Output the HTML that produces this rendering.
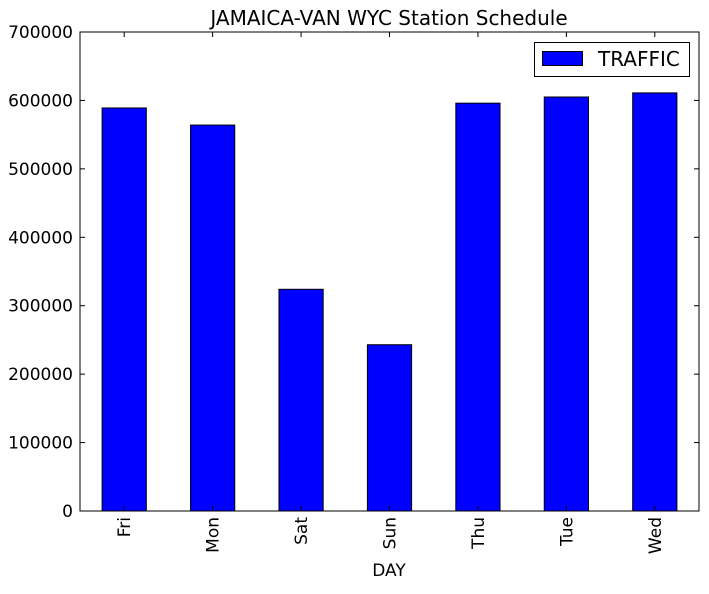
<!DOCTYPE html>
<html><head><meta charset="utf-8"><style>
body{margin:0;background:#fff;}
svg text{font-family:"DejaVu Sans","Liberation Sans",sans-serif;}
</style></head><body>
<svg id="chart" width="709" height="589" xmlns="http://www.w3.org/2000/svg">
<rect width="709" height="589" fill="#fff"/>
<text x="389" y="25" font-size="20" text-anchor="middle">JAMAICA-VAN WYC Station Schedule</text>
<g id="bars"></g>
<g id="axes"></g>
<rect x="80" y="32" width="619" height="479" fill="none" stroke="#000" stroke-width="1"/>
<text x="389" y="576" font-size="17" text-anchor="middle">DAY</text>
<g>
<rect x="534.5" y="42.5" width="155" height="34" fill="#fff" stroke="#000"/>
<rect x="542.5" y="51.5" width="40" height="14" fill="#0000ff" stroke="#000"/>
<text x="598" y="66" font-size="20">TRAFFIC</text>
</g>
</svg>
<script>
const categories=["Fri","Mon","Sat","Sun","Thu","Tue","Wed"];
const traffic=[589000,564000,324000,243000,596000,605000,611000];
const yTicks=[0,100000,200000,300000,400000,500000,600000,700000];
const L=80,R=699,T=32,B=511,yMax=700000;
const NS="http://www.w3.org/2000/svg";
function y(v){return B-(v/yMax)*(B-T);}
const step=(R-L)/categories.length;
function xc(i){return L+step*(i+0.5);}
const bars=document.getElementById('bars'),axes=document.getElementById('axes');
function mk(tag,attrs,parent){const e=document.createElementNS(NS,tag);for(const k in attrs)e.setAttribute(k,attrs[k]);parent.appendChild(e);return e;}
categories.forEach((c,i)=>{
  const w=step*0.5;
  const r=mk('rect',{x:xc(i)-w/2,y:y(traffic[i]),width:w,height:B-y(traffic[i]),fill:'#0000ff',stroke:'#000','stroke-width':1},bars);
  
  
  const t=mk('line',{x1:xc(i),x2:xc(i),y1:B,y2:B-5,stroke:'#000'},axes);
  
  
  const t2=mk('line',{x1:xc(i),x2:xc(i),y1:T,y2:T+5,stroke:'#000'},axes);
  
  
  const lb=mk('text',{x:0,y:0,'font-size':17,'text-anchor':'end',transform:`translate(${xc(i)+6},${517}) rotate(-90)`},axes);
  lb.textContent=c;
  
  
});
yTicks.forEach(v=>{
  const a=mk('line',{x1:L,x2:L+5,y1:y(v),y2:y(v),stroke:'#000'},axes);
  
  
  const b=mk('line',{x1:R-5,x2:R,y1:y(v),y2:y(v),stroke:'#000'},axes);
  
  
  const t=mk('text',{x:L-7,y:y(v)+6,'font-size':17,'text-anchor':'end'},axes);
  t.textContent=v;
  
  
});
</script>
</body></html>
